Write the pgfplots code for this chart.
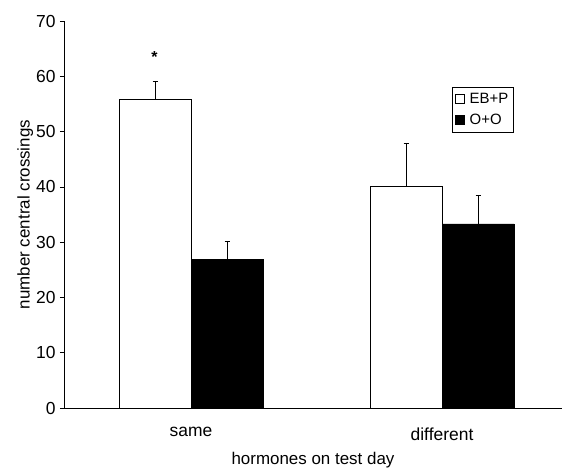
\documentclass[border=0pt]{standalone}
\usepackage{pgfplots}
\pgfplotsset{compat=1.18}
\usepackage{fontspec}
\setmainfont{Liberation Sans}
\begin{document}
\begin{tikzpicture}
\begin{axis}[
    at={(0,0)}, anchor=south west,
    scale only axis,
    width=498bp, height=387bp,
    ybar=0pt, bar width=72bp,
    xmin=-0.506, xmax=1.478,
    ymin=0, ymax=70,
    ytick={0,10,...,70},
    xtick=data,
    xticklabels={same,different},
    axis x line*=bottom,
    axis y line*=left,
    axis line style={black, line width=0.6pt},
    x tick style={draw=none},
    y tick style={black, line width=0.6pt},
    tick align=outside,
    major tick length=4bp,
    /pgf/number format/assume math mode=true,
    tick label style={font=\fontsize{17.5}{20}\selectfont},
    yticklabel style={xshift=-1bp},
    xticklabel style={yshift=-12bp},
    label style={font=\fontsize{17}{20}\selectfont},
    xlabel={hormones on test day},
    ylabel={number central crossings},
    ylabel style={yshift=-4bp},
    xlabel style={yshift=-5bp},
    legend style={at={(0.779,0.829)}, anchor=north west,
        draw=black, line width=0.6pt,
        font=\fontsize{15}{17}\selectfont,
        inner xsep=3bp, inner ysep=4bp,
        row sep=5bp,
        /tikz/every odd column/.append style={column sep=3bp}},
    legend image code/.code={\draw[#1, line width=0.5pt] (0bp,-4bp) rectangle (9bp,5bp);},
    legend cell align=left,
    error bars/y dir=plus,
    error bars/y explicit,
    error bars/error bar style={black, line width=0.7pt},
    error bars/error mark options={black, rotate=90, mark size=2.5bp, line width=0.7pt},
]
\addplot[draw=black, fill=white, line width=0.6pt] coordinates {
    (0,55.8) +- (0,3.3)
    (1,40.1) +- (0,7.8)
};
\addplot[draw=black, fill=black, line width=0.6pt] coordinates {
    (0,26.9) +- (0,3.2)
    (1,33.3) +- (0,5.2)
};
\legend{EB+P, O+O}
\node[font=\bfseries\fontsize{16}{16}\selectfont] at (axis cs:-0.146,63.4) {*};
\end{axis}
\pgfresetboundingbox
\path (-64bp,-62bp) rectangle (498bp,408bp);
\end{tikzpicture}
\end{document}
